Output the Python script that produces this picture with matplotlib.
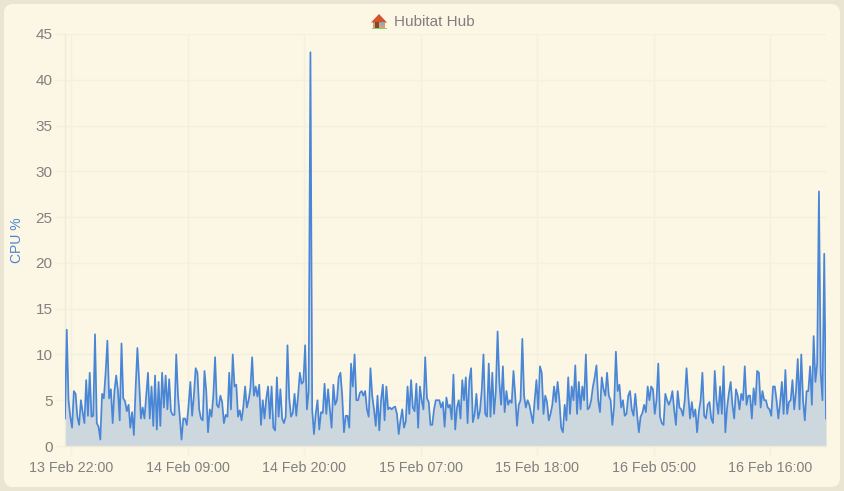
import matplotlib
matplotlib.use("Agg")
import matplotlib.pyplot as plt
import matplotlib.dates as mdates
from matplotlib.patches import FancyBboxPatch, Polygon, Rectangle
from matplotlib.transforms import Affine2D
import pandas as pd

plt.rcParams['font.family'] = ['Liberation Sans', 'DejaVu Sans']

# CPU %, one sample every 10 minutes, 12 samples per row
cpu = [
    3.0, 12.7, 5.0, 3.2, 2.0, 6.0, 5.7, 3.2, 2.3, 5.0, 3.7, 2.5,
    7.2, 3.3, 8.0, 3.2, 3.3, 12.2, 2.5, 2.1, 0.7, 5.7, 5.2, 8.0,
    11.5, 5.2, 6.2, 2.5, 6.0, 7.7, 6.0, 2.8, 11.2, 5.2, 4.9, 3.8,
    4.5, 2.0, 3.7, 1.2, 6.3, 10.7, 7.0, 3.0, 4.2, 3.0, 5.5, 8.0,
    3.0, 6.5, 2.2, 7.7, 1.8, 7.0, 2.2, 8.0, 4.2, 7.7, 4.0, 7.3,
    3.8, 3.4, 3.4, 10.0, 5.5, 3.2, 0.7, 3.0, 3.0, 2.3, 4.5, 7.0,
    3.3, 5.5, 8.5, 8.0, 4.0, 3.0, 2.8, 8.2, 6.0, 1.5, 4.0, 3.2,
    5.5, 9.7, 4.5, 4.2, 5.5, 4.8, 2.5, 3.4, 3.2, 8.0, 4.0, 10.0,
    6.5, 6.7, 3.2, 3.9, 2.8, 4.3, 6.5, 4.2, 5.0, 6.3, 9.7, 5.5,
    6.5, 5.4, 6.7, 2.3, 5.0, 3.0, 5.2, 6.5, 3.0, 6.5, 2.0, 1.7,
    7.5, 3.2, 6.2, 3.0, 2.5, 3.2, 11.0, 5.2, 3.2, 3.6, 5.7, 3.3,
    5.5, 8.0, 6.8, 7.0, 11.0, 4.0, 6.0, 43.0, 4.0, 1.3, 3.5, 5.0,
    1.8, 3.7, 3.6, 6.8, 3.5, 6.2, 4.0, 2.0, 6.7, 4.5, 5.0, 7.5,
    8.0, 5.5, 1.5, 3.3, 3.3, 2.0, 9.0, 6.5, 10.0, 5.0, 5.0, 5.8,
    6.0, 5.5, 6.0, 4.0, 3.2, 8.5, 5.5, 4.0, 2.2, 5.5, 1.7, 5.0,
    6.7, 2.8, 6.5, 4.0, 4.2, 4.0, 4.2, 4.3, 3.5, 1.3, 2.8, 4.0,
    2.0, 2.7, 6.5, 3.5, 7.2, 4.2, 3.8, 6.8, 2.0, 6.5, 5.0, 4.0,
    9.7, 5.2, 4.8, 2.3, 2.3, 4.0, 5.0, 5.0, 5.0, 4.2, 4.8, 2.1,
    5.3, 4.2, 4.5, 2.9, 7.8, 1.8, 4.2, 5.0, 3.0, 7.2, 5.0, 7.5,
    2.5, 7.2, 8.5, 2.6, 3.5, 5.7, 3.0, 3.8, 6.0, 10.0, 3.5, 3.2,
    9.0, 3.2, 8.0, 3.5, 6.0, 12.5, 7.0, 4.5, 8.7, 3.7, 6.0, 4.5,
    5.0, 4.7, 8.2, 5.5, 2.2, 4.5, 5.0, 11.7, 5.5, 4.2, 5.0, 4.5,
    3.5, 2.5, 5.0, 7.2, 4.0, 8.7, 8.0, 3.5, 5.5, 4.8, 2.8, 3.5,
    4.5, 6.5, 4.8, 7.0, 5.0, 2.0, 1.5, 4.5, 2.8, 7.5, 3.5, 6.5,
    5.0, 8.8, 3.5, 7.0, 4.0, 6.5, 5.0, 10.0, 4.0, 4.2, 5.0, 6.5,
    7.5, 8.8, 5.0, 3.7, 7.5, 6.2, 5.5, 8.0, 5.5, 5.0, 2.3, 4.3,
    10.3, 6.0, 6.7, 4.2, 5.0, 3.3, 3.5, 5.5, 6.0, 4.0, 3.3, 5.7,
    3.5, 1.5, 3.2, 3.6, 4.5, 3.7, 6.5, 5.0, 6.5, 6.2, 3.5, 5.0,
    9.0, 3.2, 2.5, 2.3, 5.7, 5.0, 4.5, 5.0, 6.0, 4.0, 2.3, 6.0,
    4.2, 4.0, 3.3, 5.0, 8.5, 5.5, 3.0, 4.8, 3.2, 4.0, 1.5, 3.8,
    5.0, 8.0, 3.3, 3.0, 4.5, 4.8, 3.0, 2.5, 8.2, 5.0, 3.5, 6.5,
    3.5, 8.7, 1.5, 4.2, 5.8, 7.0, 4.5, 3.0, 6.2, 5.5, 4.0, 5.7,
    5.0, 8.7, 4.5, 5.5, 5.5, 3.0, 6.3, 4.5, 8.2, 8.0, 4.2, 6.0,
    5.0, 5.0, 4.2, 4.0, 3.3, 6.5, 6.5, 5.0, 3.0, 4.7, 7.0, 3.5,
    8.3, 3.5, 4.8, 5.0, 7.2, 4.0, 6.0, 9.5, 4.0, 10.0, 5.0, 2.8,
    6.0, 6.0, 8.7, 4.5, 12.0, 7.0, 9.0, 27.8, 8.0, 5.0, 21.0, 3.0,
]
times = pd.date_range("2021-02-13 21:26", periods=len(cpu), freq="10min")

xTicks = pd.date_range("2021-02-13 22:00", periods=7, freq="11h")
xTickLabels = ["13 Feb 22:00", "14 Feb 09:00", "14 Feb 20:00", "15 Feb 07:00",
               "15 Feb 18:00", "16 Feb 05:00", "16 Feb 16:00"]
yTicks = [0, 5, 10, 15, 20, 25, 30, 35, 40, 45]

W, H = 844, 491
fig = plt.figure(figsize=(W / 100, H / 100), dpi=100, facecolor="#e9e5d2")

# pixel coordinates with the origin at the top left, for the card and the icon
px = Affine2D().scale(1 / W, -1 / H).translate(0, 1) + fig.transFigure

fig.add_artist(FancyBboxPatch((11, 11), 822, 469, boxstyle="round,pad=7,rounding_size=9",
                              transform=px, facecolor="#fcf6e4", edgecolor="none", zorder=-1))

ax = fig.add_axes([65 / W, 1 - 446 / H, (826 - 65) / W, (446 - 34) / H])
ax.patch.set_alpha(0)

lineColor = "#4a86d6"
gridColor = "#f3f0de"
ax.fill_between(times, cpu, 0, color="#ccd7de", linewidth=0, zorder=2)
ax.plot(times, cpu, color=lineColor, linewidth=1.25, zorder=3)

ax.set_ylim(0, 45)
ax.set_xlim(times[0], times[-1])
ax.set_yticks(yTicks)
ax.set_xticks(mdates.date2num(xTicks))
ax.set_xticklabels(xTickLabels)
ax.grid(True, color=gridColor, linewidth=1, zorder=1)
ax.set_axisbelow(True)

for side in ["top", "right"]:
    ax.spines[side].set_visible(False)
for side in ["left", "bottom"]:
    ax.spines[side].set_color("#eeebd8")
    ax.spines[side].set_linewidth(1)
ax.tick_params(axis="x", length=7, width=1, color=gridColor, labelsize=10.3,
               labelcolor="#808080", pad=4)
ax.tick_params(axis="y", length=7, width=1, color=gridColor, labelsize=11,
               labelcolor="#808080", pad=2)

ax.set_ylabel("CPU %", color=lineColor, fontsize=10, labelpad=0)
ax.yaxis.set_label_coords((24 - 65) / (826 - 65), 0.5)

fig.text(394 / W, 1 - 21.5 / H, "Hubitat Hub", color="#808080", fontsize=11,
         ha="left", va="center")

# house icon beside the title
fig.add_artist(Rectangle((373, 21), 12, 7.5, transform=px, facecolor="#d9a066", edgecolor="none"))
fig.add_artist(Polygon([(379, 14), (387, 22.5), (371, 22.5)], transform=px,
                       facecolor="#d2552f", edgecolor="none"))
fig.add_artist(Rectangle((375, 22), 3.5, 6.5, transform=px, facecolor="#7a4a38", edgecolor="none"))
fig.add_artist(Rectangle((381, 22), 2.5, 3, transform=px, facecolor="#6fb0e8", edgecolor="none"))
fig.add_artist(Rectangle((372, 28), 15, 1.2, transform=px, facecolor="#7fd27a", edgecolor="none"))

fig.savefig("out.png", dpi=100, facecolor=fig.get_facecolor())
